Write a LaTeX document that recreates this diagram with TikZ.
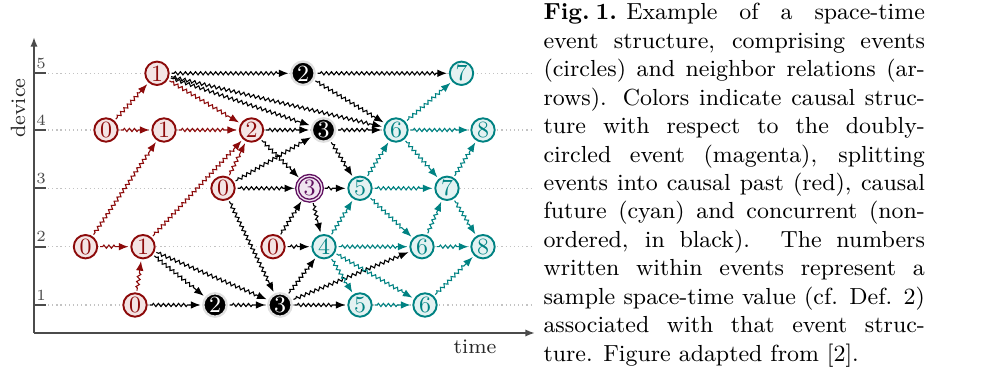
\documentclass[tikz,border=0pt]{standalone}
\usetikzlibrary{decorations.pathmorphing, arrows.meta}
\definecolor{mred}{RGB}{140,10,10}
\definecolor{mredf}{RGB}{244,228,228}
\definecolor{mcyan}{RGB}{0,130,130}
\definecolor{mcyanf}{RGB}{228,242,242}
\definecolor{mmag}{RGB}{95,15,95}
\definecolor{mmagf}{RGB}{240,228,240}
\definecolor{axisgray}{RGB}{75,75,75}
\definecolor{dotgray}{RGB}{195,195,195}
\begin{document}
\begin{tikzpicture}[x=0.387pt,y=-0.387pt,
  ev/.style={circle, minimum size=9.05pt, inner sep=0pt, line width=0.74pt, outer sep=1.1pt, font=\fontsize{9}{11}\selectfont},
  pastev/.style={ev, draw=mred, fill=mredf, text=mred},
  futev/.style={ev, draw=mcyan, fill=mcyanf, text=mcyan},
  concev/.style={ev, draw=black!12, fill=black, text=white, line width=0.92pt},
  refev/.style={ev, draw=mmag, fill=mmagf, text=mmag, double=mmagf, double distance=0.5pt, line width=0.55pt, minimum size=9.6pt},
  nb/.style={decorate, decoration={zigzag, amplitude=0.62pt, segment length=1.95pt, pre length=1pt, post length=4.2pt}, line width=0.42pt, -{Latex[length=3.7pt,width=2.9pt]}},
  axisline/.style={draw=axisgray, line width=0.74pt},
  dotline/.style={draw=dotgray, line width=0.46pt, dash pattern=on 0.46pt off 1.15pt},
  ticklabel/.style={text=axisgray, font=\fontsize{6}{7}\selectfont, inner sep=0pt},
  axislabel/.style={text=black!85, font=\fontsize{8}{9.5}\selectfont, inner sep=0pt}]
\useasboundingbox (0,0) rectangle (982,383);

% axes
\coordinate (O) at (34,333);
\coordinate (ytop) at (34,37);
\coordinate (xend) at (535,333);
\draw[axisline, -{Latex[length=3.7pt,width=2.8pt]}] (O) -- (ytop);
\draw[axisline, -{Latex[length=3.7pt,width=2.8pt]}] (O) -- (xend);
\node[axislabel, rotate=90] (devlab) at (18,108) {device};
\node[axislabel] (timelab) at (475,347) {time};

% rows
\foreach \r/\y in {1/305, 2/246.7, 3/188.3, 4/130, 5/73.3} {
  \coordinate (tl\r) at (34,\y);
  \coordinate (tr\r) at (46,\y);
  \coordinate (dl\r) at (48,\y);
  \coordinate (dr\r) at (532,\y);
  \draw[axisline] (tl\r) -- (tr\r);
  \draw[dotline] (dl\r) -- (dr\r);
  \node[ticklabel] (lab\r) at (41,\y-10) {\r};
}

% events
\node[pastev] (a5) at (157,73.3) {1};
\node[concev] (b5) at (303,73.3) {2};
\node[futev]  (c5) at (461.5,73.3) {7};

\node[pastev] (a4) at (106,130) {0};
\node[pastev] (b4) at (164,130) {1};
\node[pastev] (c4) at (251.5,130) {2};
\node[concev] (d4) at (323.5,130) {3};
\node[futev]  (e4) at (396,130) {6};
\node[futev]  (f4) at (483,130) {8};

\node[pastev] (a3) at (223,188.3) {0};
\node[refev]  (b3) at (309.5,188.3) {3};
\node[futev]  (c3) at (360,188.3) {5};
\node[futev]  (d3) at (447,188.3) {7};

\node[pastev] (a2) at (85.5,246.7) {0};
\node[pastev] (b2) at (143,246.7) {1};
\node[pastev] (c2) at (273,246.7) {0};
\node[futev]  (d2) at (324,246.7) {4};
\node[futev]  (e2) at (422,246.7) {6};
\node[futev]  (f2) at (483,246.7) {8};

\node[pastev] (a1) at (135,305) {0};
\node[concev] (b1) at (215,305) {2};
\node[concev] (c1) at (280,305) {3};
\node[futev]  (d1) at (360,305) {5};
\node[futev]  (e1) at (425,305) {6};

% neighbor relations
\foreach \s/\t in {a4/a5, a4/b4, b4/c4, a5/c4, a2/b4, a2/b2, a1/b2, b2/c4, a3/c4}
  \draw[nb, mred] (\s) -- (\t);
\foreach \s/\t in {a5/b5, a5/d4, a5/e4, b5/c5, b5/e4, c4/d4, c4/b3, d4/e4, d4/c3, a3/d4, a3/b3, a3/c1, c2/b3, c2/d2, b3/d2, b3/c3, b2/b1, b2/c1, a1/b1, b1/c1, c1/d2, c1/e2, c1/d1}
  \draw[nb, black] (\s) -- (\t);
\foreach \s/\t in {e4/c5, e4/f4, e4/d3, c3/e4, c3/d3, d3/f4, c3/e2, d2/c3, e2/d3, d3/f2, d2/e2, e2/f2, d2/d1, d2/e1, d1/e1, e1/f2}
  \draw[nb, mcyan] (\s) -- (\t);

% caption
\node[anchor=base west, inner sep=0pt, text width=147.6pt, align=justify,
      font=\fontsize{9}{11}\selectfont] (cap) at (543,20)
{\tolerance=10000\hbadness=10000\textbf{Fig.\kern2.2pt1.}\hskip3.6pt Example of a space-time\linebreak
event structure, comprising events\linebreak
(circles) and neighbor relations (ar-\linebreak
rows). Colors indicate causal struc-\linebreak
ture with respect to the doubly-\linebreak
circled event (magenta), splitting\linebreak
events into causal past (red), causal\linebreak
future (cyan) and concurrent (non-\linebreak
ordered, in black). The numbers\linebreak
written within events represent a\linebreak
sample space-time value (cf. Def. 2)\linebreak
associated with that event struc-\linebreak
ture. Figure adapted from [2].};
\end{tikzpicture}
\end{document}
